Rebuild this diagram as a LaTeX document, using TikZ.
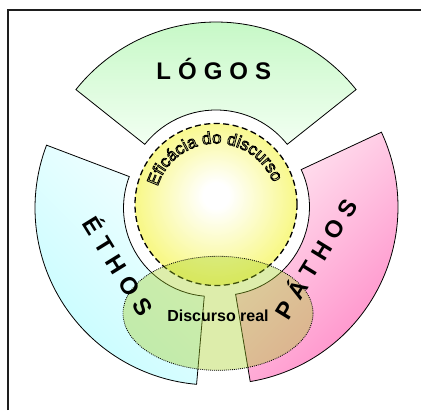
\documentclass[tikz,border=0pt]{standalone}
\usepackage{fontspec}
\setmainfont{Liberation Sans}
\usetikzlibrary{decorations.text}
\definecolor{logosTop}{RGB}{196,248,196}
\definecolor{logosBot}{RGB}{242,255,242}
\definecolor{ethosDark}{RGB}{196,252,255}
\definecolor{ethosLight}{RGB}{245,255,255}
\definecolor{pathosDark}{RGB}{255,140,200}
\definecolor{pathosLight}{RGB}{255,232,242}
\definecolor{ballEdge}{RGB}{248,248,135}
\definecolor{realFill}{RGB}{165,208,35}
\definecolor{frameCol}{RGB}{30,30,30}
\pgfdeclareradialshading{ballshade}{\pgfpoint{0bp}{3bp}}{color(0bp)=(white); color(4bp)=(white); color(25bp)=(ballEdge); color(50bp)=(ballEdge)}
\newcommand\outlinemode{\special{pdf:literal direct 0 G 0.8 w 1 Tr}}
\newcommand\effont{\fontsize{17pt}{17pt}\selectfont\outlinemode}
\newcommand\gp{\hspace{7pt}}
\tikzset{
  sectorline/.style={draw=black, line width=0.8pt},
  bigletter/.style={font=\fontsize{24pt}{24pt}\selectfont\bfseries, inner sep=0pt, anchor=base},
  framestyle/.style={draw=frameCol, line width=2pt},
}
\begin{document}
\begin{tikzpicture}[x=1pt,y=1pt]
\useasboundingbox (0,0) rectangle (422,410);
% frame
\coordinate (fA) at (8,0);
\coordinate (fB) at (8,400);
\coordinate (fC) at (421,400);
\draw[framestyle] (fA) -- (fB) -- (fC);
% LOGOS sector
\draw[sectorline, top color=logosTop, bottom color=logosBot, shift={(216pt,209pt)}]
  (38.5:179pt) arc[start angle=38.5, end angle=141.5, radius=179pt]
  -- (141.5:91pt) arc[start angle=141.5, end angle=38.5, radius=91pt] -- cycle;
% ETHOS sector
\draw[sectorline, top color=ethosLight, bottom color=ethosDark, shading angle=-45, shift={(212pt,202pt)}]
  (159.2:177pt) arc[start angle=159.2, end angle=265, radius=177pt]
  -- (265:88.5pt) arc[start angle=265, end angle=159.2, radius=88.5pt] -- cycle;
% PATHOS sector
\draw[sectorline, top color=pathosLight, bottom color=pathosDark, shading angle=45, shift={(221pt,203pt)}]
  (-80.5:177pt) arc[start angle=-80.5, end angle=25, radius=177pt]
  -- (25:88.5pt) arc[start angle=25, end angle=-80.5, radius=88.5pt] -- cycle;
% efficacy circle
\shade[shading=ballshade] (216pt,205.5pt) circle[radius=81pt];
\draw[black, line width=1.3pt, dash pattern=on 6pt off 3.5pt] (216pt,205.5pt) circle[radius=81pt];
% discurso real ellipse
\draw[black, line width=0.8pt, dash pattern=on 0.9pt off 1.1pt, fill=realFill, fill opacity=0.38]
  (218pt,96.7pt) ellipse[x radius=95pt, y radius=57pt];
% texts
\node[bigletter] (logos) at (213.8pt,330.7pt) {L\gp Ó\gp G\gp O\gp S};
\node[bigletter, rotate=-58.3] (ethos) at (110.5pt,139.1pt) {É\gp T\gp H\gp O\gp S};
\node[bigletter, rotate=58.5] (pathos) at (323.5pt,146.4pt) {P\gp Á\gp T\gp H\gp O\gp S};
\path[decorate, decoration={text along path, text align=center, text={|\effont|Eficácia do discurso}}]
  (216pt,205.5pt) ++(182:61pt) arc[start angle=182, end angle=2, radius=61pt];
\node[font=\fontsize{16pt}{16pt}\selectfont\bfseries, inner sep=0pt, anchor=base] (real) at (218pt,89pt) {Discurso real};
\end{tikzpicture}
\end{document}
